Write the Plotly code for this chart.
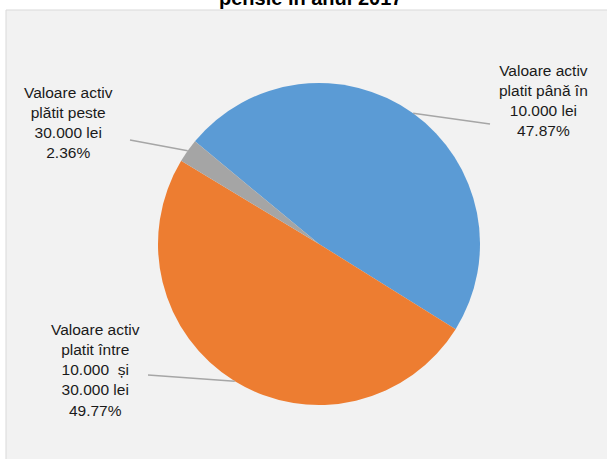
import math
import plotly.graph_objects as go

# ---- data ----
labels = [
    "Valoare activ<br>platit până în<br>10.000 lei",
    "Valoare activ<br>platit între<br>10.000  și<br>30.000 lei",
    "Valoare activ<br>plătit peste<br>30.000 lei",
]
values = [47.87, 49.77, 2.36]
colors = ["#5B9BD5", "#ED7D31", "#A5A5A5"]
title_text = "pensie în anul 2017"

# ---- layout constants (pixels) ----
W, H = 607, 459
CX, CY, R = 319, 244, 161
ROT = -50.4  # start angle, clockwise from 12 o'clock
FONT = "Liberation Sans, Arial, sans-serif"

# label text centers and leader-line ends (pixels)
label_pos = [(543, 101), (95, 370), (68, 123)]
line_end = [(490, 124), (148, 375), (130, 140)]


def px(x):
    return x / W


def py(y):
    return 1 - y / H


fig = go.Figure()
fig.add_trace(go.Pie(
    labels=labels,
    values=values,
    sort=False,
    direction="clockwise",
    rotation=ROT,
    marker=dict(colors=colors, line=dict(width=0)),
    textinfo="none",
    hoverinfo="label+percent",
    showlegend=False,
    domain=dict(x=[px(CX - R), px(CX + R)], y=[py(CY + R), py(CY - R)]),
))

shapes = [dict(type="rect", xref="paper", yref="paper",
               x0=px(6), x1=1.01, y0=-0.01, y1=py(10),
               fillcolor="#F2F2F2", line=dict(color="#D9D9D9", width=1),
               layer="below")]

annotations = []
total = sum(values)
start = ROT
for i, v in enumerate(values):
    span = v / total * 360
    mid = start + span / 2
    start += span
    a = math.radians(mid)
    sx = CX + R * math.sin(a)
    sy = CY - R * math.cos(a)
    ex, ey = line_end[i]
    shapes.append(dict(type="line", xref="paper", yref="paper",
                       x0=px(sx), y0=py(sy), x1=px(ex), y1=py(ey),
                       line=dict(color="#A6A6A6", width=1.5)))
    lx, ly = label_pos[i]
    annotations.append(dict(
        text=f"{labels[i]}<br>{v:.2f}%",
        xref="paper", yref="paper", x=px(lx), y=py(ly),
        xanchor="center", yanchor="middle", showarrow=False,
        align="center", font=dict(family=FONT, size=15.5, color="#1A1A1A"),
    ))

annotations.append(dict(
    text=f"<b>{title_text}</b>", xref="paper", yref="paper",
    x=px(310), y=py(11.5), xanchor="center", yanchor="bottom",
    showarrow=False, font=dict(family=FONT, size=20, color="#000000"),
))

fig.update_layout(
    width=W, height=H,
    margin=dict(l=0, r=0, t=0, b=0),
    paper_bgcolor="#FFFFFF",
    shapes=shapes,
    annotations=annotations,
)

fig.write_html(
    "out.html",
    config={"displayModeBar": False},
    post_script="document.body.style.margin='0';document.body.style.overflow='hidden';",
)
